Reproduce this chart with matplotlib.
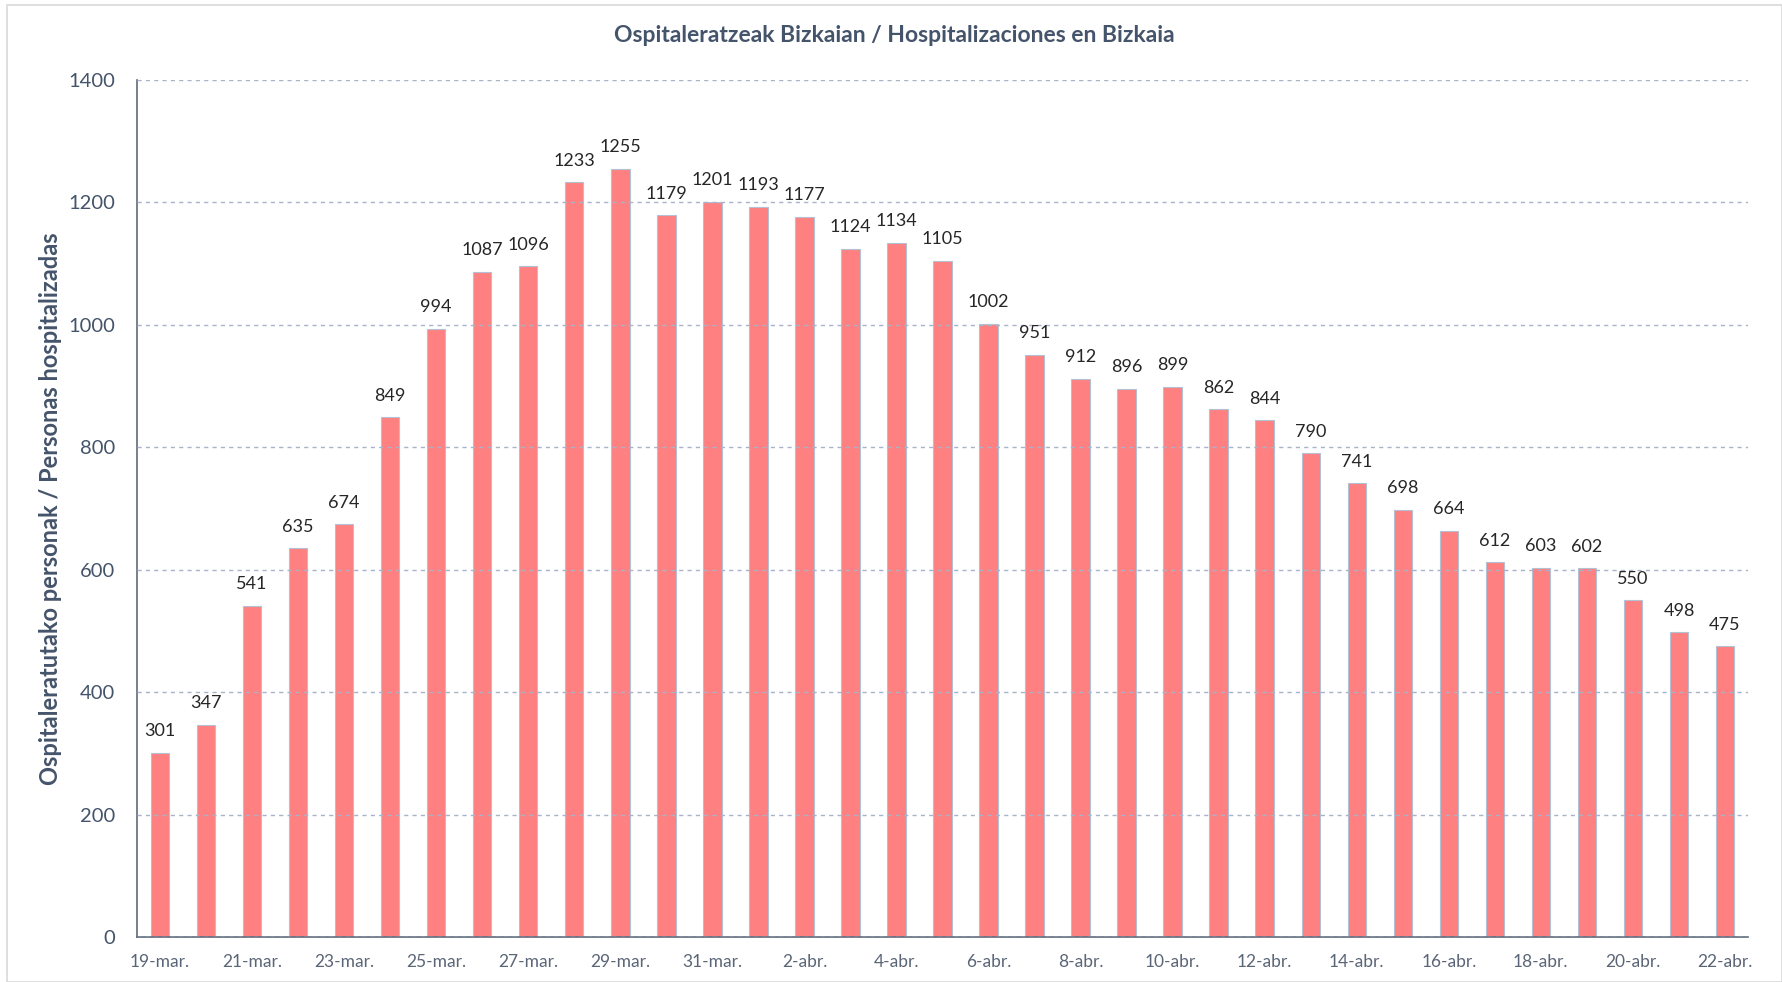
import matplotlib.pyplot as plt
from matplotlib.patches import Rectangle

# --- Data ---
dates = (
    [f"{d}-mar." for d in range(19, 32)] +
    [f"{d}-abr." for d in range(1, 23)]
)
hospitalized = [301, 347, 541, 635, 674, 849, 994, 1087, 1096, 1233, 1255,
                1179, 1201, 1193, 1177, 1124, 1134, 1105, 1002, 951, 912,
                896, 899, 862, 844, 790, 741, 698, 664, 612, 603, 602, 550,
                498, 475]
y_ticks = [0, 200, 400, 600, 800, 1000, 1200, 1400]

plt.rcParams['font.family'] = ['Lato', 'DejaVu Sans']
text_col = "#44546A"

fig = plt.figure(figsize=(17.82, 9.82), dpi=100)
ax = fig.add_axes([137 / 1782, 1 - 937 / 982, (1748 - 137) / 1782, (937 - 80) / 982])

# outer frame
fig.patches.append(Rectangle((7 / 1782, 0.0), 1 - 7 / 1782, 1 - 5 / 982,
                             transform=fig.transFigure, fill=False,
                             edgecolor="#D9D9D9", linewidth=1.2))

x = range(len(dates))
bars = ax.bar(x, hospitalized, width=0.4, color="#FF8080",
              edgecolor="#B4C0D4", linewidth=0.8, zorder=2)

for xi, v in zip(x, hospitalized):
    ax.text(xi, v + 22, str(v), ha="center", va="bottom",
            fontsize=13, color="#262626", zorder=4)

ax.set_xlim(-0.5, len(dates) - 0.5)
ax.set_ylim(0, 1400)
ax.set_yticks(y_ticks)
ax.set_yticklabels([str(t) for t in y_ticks], fontsize=14.5, color=text_col)
ax.set_xticks(list(x)[::2])
ax.set_xticklabels(dates[::2], fontsize=12.5, color="#5A6577")
ax.tick_params(axis="both", length=0)
ax.tick_params(axis="x", pad=12)
ax.tick_params(axis="y", pad=16)

ax.yaxis.grid(True, linestyle=(0, (3, 3)), color="#A8B2C8", linewidth=1, zorder=3)
ax.set_axisbelow(False)

for side in ["top", "right"]:
    ax.spines[side].set_visible(False)
for side in ["left", "bottom"]:
    ax.spines[side].set_color("#5F6B7D")
    ax.spines[side].set_linewidth(1.2)

ax.set_ylabel("Ospitaleratutako personak / Personas hospitalizadas",
              fontsize=17, weight="bold", color=text_col, labelpad=4)
fig.text(0.5 + 7 / 1782 / 2, 1 - 35 / 982,
         "Ospitaleratzeak Bizkaian / Hospitalizaciones en Bizkaia",
         ha="center", va="center", fontsize=16.5, weight="bold", color=text_col)

plt.savefig("out.png", dpi=100)
